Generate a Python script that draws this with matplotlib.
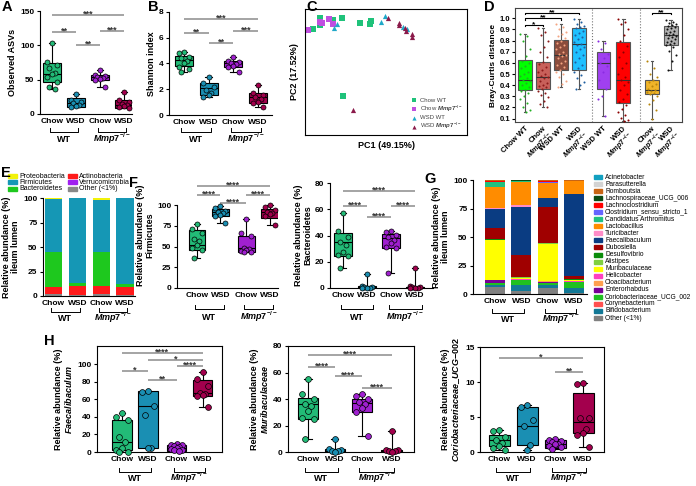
import numpy as np
import matplotlib
matplotlib.use("Agg")
import matplotlib.pyplot as plt
from matplotlib.patches import Rectangle
from matplotlib.transforms import blended_transform_factory

# ---------------- data ----------------
MMP = r"$Mmp7^{-/-}$"
diet_labels = ["Chow", "WSD", "Chow", "WSD"]
group_colors = ["#22bb77", "#1a8fb3", "#a020d0", "#a3004d"]

# box stats: (min, q1, median, q3, max); order Chow WT, WSD WT, Chow Mmp7, WSD Mmp7
asv_stats = [(36.2, 45.9, 58.4, 74.9, 103.9), (10.1, 10.1, 16.0, 22.7, 29.0),
             (39.1, 49.7, 53.6, 57.0, 64.2), (8.7, 8.7, 13.5, 20.8, 31.9)]
asv_points = [[104, 76, 72, 67, 60, 58, 54, 47, 39, 36],
              [29, 21, 18, 16, 13, 11, 10],
              [64, 57, 55, 54, 52, 51, 50, 39],
              [32, 20, 17, 15, 13.5, 12, 10, 9]]
asv_sig = [(0, 3, 144, "***"), (0, 1, 118.8, "**"), (2, 3, 121, "***"), (1, 2, 100.5, "**")]

shannon_stats = [(3.35, 3.8, 4.3, 4.6, 4.9), (1.37, 1.55, 2.06, 2.45, 2.97),
                 (3.35, 3.74, 4.0, 4.2, 4.5), (0.65, 0.95, 1.37, 1.73, 2.32)]
shannon_points = [[4.9, 4.8, 4.5, 4.4, 4.2, 4.0, 3.75, 3.6, 3.35],
                  [2.97, 2.45, 2.14, 1.94, 1.73, 1.55, 1.37],
                  [4.5, 4.2, 4.1, 4.0, 3.93, 3.82, 3.74, 3.35],
                  [2.32, 1.73, 1.55, 1.37, 1.21, 1.03, 0.9, 0.65]]
shannon_sig = [(0, 3, 7.48, "***"), (0, 1, 6.4, "**"), (2, 3, 6.53, "***"), (1, 2, 5.6, "**")]

# PCA scores (frame-normalised)
pca_groups = ["Chow WT", "Chow " + MMP, "WSD WT", "WSD " + MMP]
pca_x = [[0.051, 0.093, 0.093, 0.175, 0.230, 0.340, 0.406, 0.401, 0.236],
         [0.020, 0.093, 0.150, 0.171, 0.105],
         [0.196, 0.181, 0.469, 0.494, 0.603, 0.628],
         [0.510, 0.578, 0.582, 0.617, 0.623, 0.659, 0.662, 0.294]]
pca_y = [[0.839, 0.926, 0.873, 0.913, 0.931, 0.886, 0.905, 0.878, 0.312],
         [0.833, 0.899, 0.921, 0.881, 0.889],
         [0.881, 0.847, 0.894, 0.944, 0.860, 0.839],
         [0.931, 0.886, 0.873, 0.852, 0.828, 0.799, 0.775, 0.198]]
pca_colors = ["#1fc27a", "#c04fe0", "#1fa8c8", "#8b1a4a"]
pca_markers = ["s", "s", "^", "^"]

# Bray-Curtis
bc_labels = ["Chow WT", "Chow\n" + MMP, "WSD WT", "WSD\n" + MMP,
             "WSD WT", "WSD\n" + MMP, "Chow\n" + MMP, "WSD\n" + MMP]
bc_stats = [(0.16, 0.355, 0.45, 0.624, 0.855), (0.20, 0.37, 0.47, 0.606, 0.915),
            (0.38, 0.54, 0.67, 0.806, 0.945), (0.37, 0.54, 0.77, 0.915, 0.99),
            (0.12, 0.37, 0.60, 0.70, 0.80), (0.08, 0.24, 0.45, 0.79, 0.99),
            (0.10, 0.32, 0.36, 0.45, 0.62), (0.54, 0.76, 0.85, 0.93, 0.985)]
bc_points = [
    [0.855, 0.84, 0.80, 0.72, 0.66, 0.62, 0.60, 0.57, 0.55, 0.52, 0.50, 0.48, 0.46, 0.45,
     0.44, 0.42, 0.40, 0.38, 0.36, 0.35, 0.33, 0.30, 0.28, 0.24, 0.20, 0.18, 0.16],
    [0.915, 0.88, 0.85, 0.80, 0.74, 0.70, 0.65, 0.61, 0.59, 0.56, 0.54, 0.52, 0.50, 0.48,
     0.47, 0.46, 0.44, 0.42, 0.40, 0.39, 0.38, 0.37, 0.35, 0.33, 0.31, 0.29, 0.26, 0.23, 0.20],
    [0.945, 0.92, 0.90, 0.88, 0.86, 0.84, 0.82, 0.80, 0.78, 0.76, 0.74, 0.72, 0.70, 0.68,
     0.67, 0.66, 0.64, 0.62, 0.60, 0.58, 0.56, 0.54, 0.52, 0.50, 0.47, 0.44, 0.41, 0.38],
    [0.99, 0.97, 0.95, 0.93, 0.92, 0.91, 0.89, 0.87, 0.85, 0.83, 0.81, 0.79, 0.77, 0.76,
     0.74, 0.72, 0.70, 0.67, 0.64, 0.61, 0.58, 0.55, 0.52, 0.49, 0.46, 0.43, 0.40, 0.37],
    [0.80, 0.78, 0.72, 0.68, 0.64, 0.60, 0.57, 0.52, 0.45, 0.37, 0.30, 0.28, 0.12],
    [0.99, 0.97, 0.95, 0.90, 0.85, 0.80, 0.75, 0.70, 0.65, 0.60, 0.55, 0.50, 0.47, 0.45,
     0.43, 0.40, 0.36, 0.32, 0.28, 0.25, 0.22, 0.19, 0.16, 0.13, 0.11, 0.09, 0.08],
    [0.62, 0.55, 0.50, 0.47, 0.45, 0.43, 0.41, 0.39, 0.37, 0.36, 0.35, 0.34, 0.33, 0.32,
     0.30, 0.27, 0.23, 0.18, 0.10],
    [0.985, 0.97, 0.96, 0.95, 0.94, 0.93, 0.92, 0.91, 0.90, 0.89, 0.88, 0.87, 0.86, 0.85,
     0.84, 0.83, 0.82, 0.81, 0.80, 0.79, 0.78, 0.77, 0.76, 0.74, 0.71, 0.67, 0.62, 0.54]]
bc_box_colors = ["#00ff00", "#c8605a", "#8b4c3c", "#20c0ff", "#a040f0", "#ff0000", "#f0b429", "#b0b0b0"]
bc_pt_colors = ["#22b022", "#8b1a1a", "#f4a582", "#1f5fa0", "#8a2be2", "#8b0000", "#b8860b", "#111111"]
bc_sig = [(0, 3, 1.05, "**"), (0, 2, 1.0, "**"), (0, 1, 0.94, "*"), (7.05, 8.1, 1.05, "**")]

# phylum composition (%), stacked bottom -> top
phyla = ["Proteobacteria", "Firmicutes", "Bacteroidetes", "Actinobacteria", "Verrucomicrobia", "Other (<1%)"]
phyla_colors = ["#f2f20a", "#1597b5", "#1ec81e", "#ff1a1a", "#a020f0", "#888888"]
phyla_pct = {  # per bar: Chow WT, WSD WT, Chow Mmp7, WSD Mmp7
    "Other (<1%)":     [2.0, 1.0, 1.8, 1.0],
    "Verrucomicrobia": [0.3, 0.2, 0.3, 0.2],
    "Actinobacteria":  [6.6, 9.0, 8.1, 8.3],
    "Bacteroidetes":   [35.5, 2.8, 34.2, 2.8],
    "Firmicutes":      [54.6, 87.0, 53.2, 87.7],
    "Proteobacteria":  [1.0, 0.0, 2.4, 0.0],
}

firm_stats = [(36, 45.5, 52, 70, 77.5), (78.6, 86.7, 91.5, 96, 99),
              (43, 43, 48.4, 63, 83.5), (76.6, 84.7, 91.5, 95.6, 100)]
firm_points = [[77, 71, 66, 59, 57, 52, 48, 46, 36],
               [99, 96.8, 92.7, 91.5, 90.7, 88.7, 87.5, 78.6],
               [83.5, 67, 63, 48, 47, 46, 45, 44, 43],
               [100, 97.6, 94, 92, 90.7, 89.5, 86.7, 76.6]]
firm_sig = [(0, 3.1, 123, "****"), (0, 1, 113, "****"), (2.1, 3.1, 113, "****"), (1, 2.1, 103, "****")]

bact_stats = [(15.6, 24.5, 35.4, 41.8, 57), (0, 0.2, 0.5, 1.3, 10.3),
              (11.5, 30.3, 38, 41, 43.8), (0, 0.2, 0.5, 1.0, 15.6)]
bact_points = [[57, 43.8, 39.2, 35.4, 32.8, 27.7, 25, 24.5, 15.6],
               [10.3, 1.3, 0.8, 0.5, 0.3, 0.1, 0.0],
               [43.8, 42.3, 40.5, 38.7, 36.7, 34.1, 31.5, 30.3, 11.5],
               [15.6, 1.3, 0.8, 0.5, 0.3, 0.1, 0.05]]
bact_sig = [(0, 3, 73.8, "****"), (0, 1, 62.8, "****"), (2, 3, 62.8, "****"), (1, 2, 54, "****")]

# genus composition (%), legend order top -> bottom
genera = ["Acinetobacter", "Parasutterella", "Romboutsia", "Lachnospiraceae_UCG_006",
          "Lachnoclostridium", "Clostridium_sensu_stricto_1", "Candidatus Arthromitus",
          "Lactobacillus", "Turicibacter", "Faecalibaculum", "Dubosiella", "Desulfovibrio",
          "Alistipes", "Muribaculaceae", "Helicobacter", "Cloacibacterium", "Enterorhabdus",
          "Coriobacteriaceae_UCG_002", "Corynebacterium", "Bifidobacterium", "Other (<1%)"]
genus_colors = ["#12a0c0", "#d3d3d3", "#c86414", "#0a4a14", "#ff0000", "#6464ff", "#20c080",
                "#ff8c00", "#ff8cc8", "#0a3c82", "#a00000", "#0a8c0a", "#80d040", "#ffff00",
                "#ff40c0", "#ffa050", "#780096", "#20c020", "#ff5050", "#127896", "#808080"]
genus_pct = {  # Chow WT, WSD WT, Chow Mmp7, WSD Mmp7
    "Acinetobacter":               [0.2, 0.0, 0.2, 0.05],
    "Parasutterella":              [0.1, 0.1, 0.2, 0.05],
    "Romboutsia":                  [0.2, 0.3, 0.4, 0.4],
    "Lachnospiraceae_UCG_006":     [0.2, 0.1, 0.2, 0.1],
    "Lachnoclostridium":           [0.8, 0.6, 1.0, 0.2],
    "Clostridium_sensu_stricto_1": [0.2, 0.1, 0.2, 0.1],
    "Candidatus Arthromitus":      [4.8, 0.3, 0.8, 0.1],
    "Lactobacillus":               [18.3, 20.8, 12.9, 11.0],
    "Turicibacter":                [0.2, 1.2, 0.1, 0.2],
    "Faecalibaculum":              [17.2, 42.5, 8.0, 72.3],
    "Dubosiella":                  [9.6, 19.2, 31.2, 2.6],
    "Desulfovibrio":               [0.4, 0.3, 0.4, 0.2],
    "Alistipes":                   [0.8, 0.2, 0.6, 0.2],
    "Muribaculaceae":              [34.3, 1.5, 32.5, 1.5],
    "Helicobacter":                [0.4, 0.1, 0.2, 0.1],
    "Cloacibacterium":             [0.3, 0.2, 0.2, 0.1],
    "Enterorhabdus":               [2.2, 0.5, 1.5, 0.2],
    "Coriobacteriaceae_UCG_002":   [1.6, 4.0, 1.2, 5.5],
    "Corynebacterium":             [0.2, 0.2, 0.2, 0.1],
    "Bifidobacterium":             [1.5, 5.5, 3.0, 4.0],
    "Other (<1%)":                 [6.5, 2.3, 5.0, 1.0],
}

faec_stats = [(0, 1.9, 11.4, 37, 44.6), (4.6, 5, 52.2, 69.3, 69.7),
              (0.5, 1.1, 4.6, 8.4, 9.5), (51.4, 63.6, 67.4, 81.9, 91.4)]
faec_points = [[44.6, 40, 36.2, 17.1, 11.4, 5, 1.9, 0.3, 0.1],
               [69.3, 68.6, 52.2, 41.9, 5, 4.6],
               [9.5, 8.4, 7.6, 6.5, 5.7, 4.6, 3.8, 2.7, 1.9, 1.1],
               [91.4, 83.8, 75.4, 67.4, 66.7, 65.5, 63.6, 51.4]]
faec_sig = [(0, 3.1, 113, "****"), (1, 3.1, 104.8, "*"), (2.1, 3.1, 97.9, "****"),
            (0, 1, 92.6, "*"), (1, 2.1, 81.9, "**")]

muri_stats = [(9.9, 24.6, 36, 41, 55.4), (0.2, 0.3, 1.0, 2.3, 9.9),
              (11.9, 30.1, 37.2, 39.7, 43.5), (0.2, 0.3, 0.8, 1.5, 15.7)]
muri_points = [[55.4, 44, 40, 36, 34.7, 30.9, 25.8, 24.6, 9.9],
               [9.9, 2.3, 1.8, 1.0, 0.5, 0.3],
               [43.5, 42.3, 39.7, 37.7, 36, 33.4, 30.1, 11.9],
               [15.7, 1.8, 1.3, 1.0, 0.5, 0.3]]
muri_sig = [(0, 3.1, 73.2, "****"), (0, 1, 63.8, "****"), (1, 2, 57, "****"), (2, 3.1, 48.6, "****")]

corio_stats = [(0.33, 0.81, 1.67, 2.48, 3.19), (0.33, 0.95, 3.76, 6.5, 6.76),
               (0.43, 0.57, 1.14, 1.76, 1.86), (0.67, 2.7, 4.24, 8.5, 9.86)]
corio_points = [[3.19, 2.95, 2.14, 1.67, 1.29, 0.81, 0.57, 0.33],
                [6.76, 6.5, 4.6, 3.67, 1.05, 0.33],
                [1.86, 1.7, 1.6, 1.38, 1.14, 1.1, 0.9, 0.67, 0.48],
                [9.86, 9.76, 4.86, 4.8, 3.3, 2.7, 2.5, 0.67]]
corio_sig = [(0, 3, 13.4, "*"), (2, 3, 11.4, "**")]

# ---------------- style ----------------
plt.rcParams["font.family"] = ["Liberation Sans", "DejaVu Sans"]
plt.rcParams["font.weight"] = "bold"
plt.rcParams["axes.labelweight"] = "bold"
plt.rcParams["mathtext.fontset"] = "custom"
plt.rcParams["mathtext.rm"] = "Liberation Sans:bold"
plt.rcParams["mathtext.it"] = "Liberation Sans:italic:bold"
plt.rcParams["mathtext.bf"] = "Liberation Sans:bold"
plt.rcParams["axes.linewidth"] = 0.8
plt.rcParams["ytick.major.width"] = 0.8
plt.rcParams["ytick.major.size"] = 2.5
plt.rcParams["ytick.labelsize"] = 6
plt.rcParams["xtick.labelsize"] = 6
plt.rcParams["axes.labelsize"] = 6.5

W, H = 696, 486
fig = plt.figure(figsize=(W / 100, H / 100), dpi=100)


def add_ax(l, t, r, b):
    return fig.add_axes([l / W, 1 - b / H, (r - l) / W, (b - t) / H])


def fy(py):
    return 1 - py / H


def spread(n):
    return np.resize(np.array([0.0, -0.9, 0.9, -0.45, 0.45]), n)


def prism_axes(ax, frame=False):
    if not frame:
        ax.spines["top"].set_visible(False)
        ax.spines["right"].set_visible(False)
    ax.tick_params(axis="x", length=0, pad=3)
    ax.tick_params(axis="y", pad=1.5)


def box_panel(ax, pos, stats, points, colors, width=0.72, ms=3.6):
    bx = [dict(whislo=s[0], q1=s[1], med=s[2], q3=s[3], whishi=s[4]) for s in stats]
    lp = dict(color="k", linewidth=0.8)
    bp = ax.bxp(bx, positions=pos, widths=width, patch_artist=True, showfliers=False,
                boxprops=dict(edgecolor="k", linewidth=0.8), medianprops=lp,
                whiskerprops=lp, capprops=lp, capwidths=width * 0.35)
    for patch, c in zip(bp["boxes"], colors):
        patch.set_facecolor(c)
    for p, vals, c in zip(pos, points, colors):
        off = spread(len(vals)) * width * 0.33
        ax.scatter(p + off, vals, s=ms ** 2, color=c, edgecolor="k", linewidth=0.5,
                   zorder=3, clip_on=False)
    ax.set_xticks(pos)
    ax.set_xticklabels(diet_labels)


def sig(ax, marks, fs=6.5):
    for x0, x1, y, txt in marks:
        ax.plot([x0, x1], [y, y], color="#8c8c8c", lw=1.1, solid_capstyle="butt", clip_on=False)
        ax.annotate(txt, ((x0 + x1) / 2, y), xytext=(0, -2.5), textcoords="offset points",
                    ha="center", va="bottom", fontsize=fs, color="#333333", annotation_clip=False)


def brackets(ax, spans, y_line, y_text, fs=6.5):
    tr = blended_transform_factory(ax.transData, fig.transFigure)
    for x0, x1, lab in spans:
        ax.plot([x0, x0, x1, x1], [fy(y_line - 4), fy(y_line), fy(y_line), fy(y_line - 4)],
                transform=tr, color="k", lw=0.7, clip_on=False)
        ax.text((x0 + x1) / 2, fy(y_text), lab, transform=tr, ha="center", va="center", fontsize=fs)


def letter(x, y, s):
    fig.text(x / W, fy(y), s, fontsize=10.5, fontweight="bold", ha="left", va="top")


# ---------------- A ----------------
pos = [0, 1, 2, 3]
axA = add_ax(40, 11, 132, 114)
prism_axes(axA)
box_panel(axA, pos, asv_stats, asv_points, group_colors)
sig(axA, asv_sig)
axA.set_xlim(-0.5, 3.33)
axA.set_ylim(0, 150)
axA.set_yticks([0, 50, 100, 150])
axA.set_ylabel("Observed ASVs", labelpad=2)
brackets(axA, [(-0.1, 1.1, "WT"), (1.9, 3.1, MMP)], 132, 139)

# ---------------- B ----------------
axB = add_ax(169, 12, 272, 115)
prism_axes(axB)
box_panel(axB, pos, shannon_stats, shannon_points, group_colors)
sig(axB, shannon_sig)
axB.set_xlim(-0.6, 3.56)
axB.set_ylim(0, 8)
axB.set_yticks([0, 2, 4, 6, 8])
axB.set_ylabel("Shannon index", labelpad=2)
brackets(axB, [(-0.1, 1.1, "WT"), (1.9, 3.1, MMP)], 132, 139)

# ---------------- C ----------------
axC = add_ax(305, 9, 467, 135)
for xs, ys, c, m, lab in zip(pca_x, pca_y, pca_colors, pca_markers, pca_groups):
    axC.scatter(xs, ys, s=14, color=c, marker=m, linewidth=0, label=lab)
axC.set_xlim(0, 1)
axC.set_ylim(0, 1)
axC.set_xticks([])
axC.set_yticks([])
axC.set_xlabel("PC1 (49.15%)", fontsize=6.5, labelpad=4)
axC.set_ylabel("PC2 (17.52%)", fontsize=6.5, labelpad=4)
axC.legend(loc="lower right", frameon=False, handletextpad=0.1,
           labelspacing=0.15, borderaxespad=0.2, markerscale=0.8,
           prop=dict(size=4.3, weight="normal"), labelcolor="#444444")

# ---------------- D ----------------
axD = add_ax(515, 8, 682, 122)
d_pos = [0, 1, 2, 3, 4.35, 5.45, 7.05, 8.1]
bx = [dict(whislo=s[0], q1=s[1], med=s[2], q3=s[3], whishi=s[4]) for s in bc_stats]
gp = dict(color="#555555", linewidth=0.8)
bpD = axD.bxp(bx, positions=d_pos, widths=0.75, patch_artist=True, showfliers=False,
              boxprops=dict(edgecolor="#555555", linewidth=0.8),
              medianprops=dict(color="#333333", linewidth=0.8),
              whiskerprops=gp, capprops=gp, capwidths=0.15)
for patch, c in zip(bpD["boxes"], bc_box_colors):
    patch.set_facecolor(c)
for p, vals, c in zip(d_pos, bc_points, bc_pt_colors):
    n = len(vals)
    off = ((np.arange(n) * 7) % 11 - 5) / 5 * 0.28
    axD.scatter(p + off, vals, s=2.2, color=c, linewidth=0, zorder=3)
for xs in (3.72, 6.39):
    axD.axvline(xs, color="#777777", ls=":", lw=0.8)
for x0, x1, y, txt in bc_sig:
    axD.plot([x0, x0, x1, x1], [y - 0.012, y, y, y - 0.012], color="k", lw=0.8)
    axD.annotate(txt, ((x0 + x1) / 2, y), xytext=(0, -2.2), textcoords="offset points",
                 ha="center", va="bottom", fontsize=6)
axD.set_xlim(-0.56, 8.72)
axD.set_ylim(0.07, 1.092)
axD.set_yticks(np.round(np.arange(0.1, 1.01, 0.1), 1))
axD.set_yticklabels([f"{v:.1f}" for v in np.arange(0.1, 1.01, 0.1)])
axD.tick_params(axis="y", labelsize=5.5, pad=1.5, length=2)
axD.set_xticks(d_pos)
axD.set_xticklabels(bc_labels, rotation=45, ha="right", rotation_mode="anchor",
                    fontsize=5.5, linespacing=0.9)
axD.tick_params(axis="x", length=0, pad=2)
axD.set_ylabel("Bray-Curtis distance", fontsize=6, labelpad=2)
for s in axD.spines.values():
    s.set_color("#444444")

# ---------------- E ----------------
axE = add_ax(43, 198, 135, 296)
prism_axes(axE)
bottom = np.zeros(4)
for name in phyla[::-1]:
    vals = np.array(phyla_pct[name])
    axE.bar(pos, vals, width=0.72, bottom=bottom, color=phyla_colors[phyla.index(name)], linewidth=0)
    bottom += vals
axE.set_xlim(-0.44, 3.42)
axE.set_ylim(0, 100)
axE.set_yticks([0, 25, 50, 75, 100])
axE.set_xticks(pos)
axE.set_xticklabels(diet_labels)
axE.set_ylabel("Relative abundance (%)\nileum lumen", linespacing=1.0, labelpad=2)
brackets(axE, [(-0.1, 1.1, "WT"), (1.9, 3.1, MMP)], 312, 318)
for i, name in enumerate(phyla):
    col, row = divmod(i, 3)
    xs = 8 + col * 60
    y = 176 + row * 6.3
    fig.patches.append(Rectangle((xs / W, fy(y + 2)), 9 / W, 4 / H, transform=fig.transFigure,
                                 color=phyla_colors[i]))
    fig.text((xs + 11) / W, fy(y), name, fontsize=5, fontweight="normal", va="center")

# ---------------- F ----------------
posF = [0, 1, 2.1, 3.1]
axF1 = add_ax(177, 183, 278, 288)
prism_axes(axF1)
box_panel(axF1, posF, firm_stats, firm_points, group_colors)
sig(axF1, firm_sig)
axF1.set_xlim(-0.85, 3.45)
axF1.set_ylim(0, 127)
axF1.set_yticks([0, 25, 50, 75, 100])
axF1.spines["left"].set_bounds(0, 100)
axF1.set_ylabel("Relative abundance (%)\nFirmicutes", linespacing=1.0, labelpad=2)
brackets(axF1, [(-0.1, 1.15, "WT"), (2.0, 3.25, MMP)], 309, 317)

axF2 = add_ax(330, 183, 433, 288)
prism_axes(axF2)
box_panel(axF2, pos, bact_stats, bact_points, group_colors)
sig(axF2, bact_sig)
axF2.set_xlim(-0.54, 3.75)
axF2.set_ylim(0, 80)
axF2.set_yticks([0, 20, 40, 60, 80])
axF2.set_ylabel("Relative abundance (%)\nBacteroidetes", linespacing=1.0, labelpad=2)
brackets(axF2, [(-0.1, 1.25, "WT"), (1.9, 3.3, MMP)], 309, 317)

# ---------------- G ----------------
axG = add_ax(473, 180, 587, 294)
prism_axes(axG)
bottom = np.zeros(4)
for name in genera[::-1]:
    vals = np.array(genus_pct[name])
    axG.bar(pos, vals, width=0.76, bottom=bottom, color=genus_colors[genera.index(name)], linewidth=0)
    bottom += vals
axG.set_xlim(-0.84, 3.5)
axG.set_ylim(0, 100)
axG.set_yticks([0, 25, 50, 75, 100])
axG.set_xticks(pos)
axG.set_xticklabels(diet_labels)
axG.set_ylabel("Relative abundance (%)\nileum lumen", linespacing=1.0, labelpad=2)
brackets(axG, [(-0.1, 1.1, "WT"), (1.9, 3.1, MMP)], 313, 319)
for i, name in enumerate(genera):
    y = 177 + i * 7.05
    fig.patches.append(Rectangle((594 / W, fy(y + 2)), 8 / W, 4 / H, transform=fig.transFigure,
                                 color=genus_colors[i]))
    fig.text(605 / W, fy(y), name, fontsize=4.75, fontweight="normal", va="center")

# ---------------- H ----------------
posH1 = [0, 1, 2.1, 3.1]
axH1 = add_ax(97, 346, 222, 452)
prism_axes(axH1, frame=True)
box_panel(axH1, posH1, faec_stats, faec_points, group_colors, width=0.75, ms=4.2)
sig(axH1, faec_sig)
axH1.set_xlim(-0.96, 3.85)
axH1.set_ylim(0, 121)
axH1.set_yticks([0, 20, 40, 60, 80, 100])
axH1.set_ylabel("Relative abundance (%)\n" + r"$Faecalibaculum$", linespacing=1.0, labelpad=2)
brackets(axH1, [(-0.1, 1.1, "WT"), (2.0, 3.2, MMP)], 472, 478)

posH2 = [0, 1, 2, 3.1]
axH2 = add_ax(288, 346, 414, 452)
prism_axes(axH2, frame=True)
box_panel(axH2, posH2, muri_stats, muri_points, group_colors, width=0.75, ms=4.2)
sig(axH2, muri_sig)
axH2.set_xlim(-0.74, 3.93)
axH2.set_ylim(0, 80)
axH2.set_yticks([0, 20, 40, 60, 80])
axH2.set_ylabel("Relative abundance (%)\n" + r"$Muribaculaceae$", linespacing=1.0, labelpad=2)
brackets(axH2, [(-0.1, 1.1, "WT"), (1.9, 3.2, MMP)], 472, 478)

axH3 = add_ax(480, 347, 604, 452)
prism_axes(axH3, frame=True)
box_panel(axH3, pos, corio_stats, corio_points, group_colors, width=0.75, ms=4.2)
sig(axH3, corio_sig)
axH3.set_xlim(-0.68, 3.75)
axH3.set_ylim(0, 15)
axH3.set_yticks([0, 5, 10, 15])
axH3.set_ylabel("Relative abundance (%)\n" + r"$\mathit{Coriobacteriaceae\_UCG{-}002}$",
                linespacing=1.0, labelpad=2)
brackets(axH3, [(-0.1, 1.1, "WT"), (1.9, 3.1, MMP)], 472, 478)

# panel letters
letter(2, 0, "A")
letter(148, 0, "B")
letter(306, 0, "C")
letter(484, 0, "D")
letter(1, 166, "E")
letter(129, 176, "F")
letter(424, 172, "G")
letter(44, 334, "H")

fig.savefig("out.png", dpi=100)
